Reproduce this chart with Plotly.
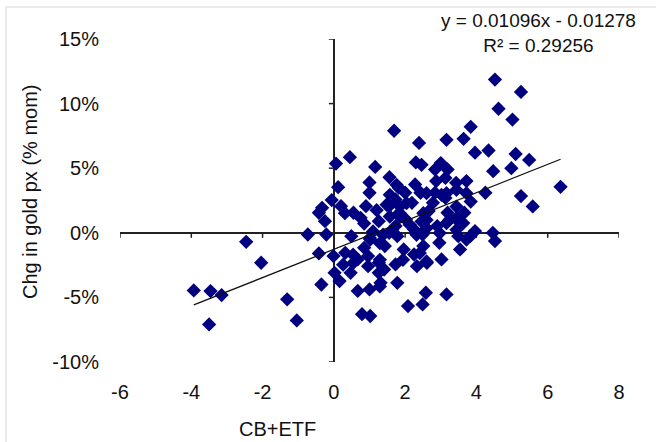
import plotly.graph_objects as go

# ---- data (CB+ETF flows vs. monthly % change in gold price) ----
cb_etf = [
    -3.93, -3.46, -3.15, -3.50, -2.46, -2.04, -1.31, -1.04, -0.73, -0.42,
    -0.33, -0.25, -0.21, -0.42, -0.35, -0.06, 0.06, 0.45, 0.12, 0.20,
    -0.01, 0.02, 0.16, 0.32, 0.49, 0.47, 0.67, 0.79, 1.02, 1.00,
    0.55, 0.75, 0.85, 0.90, 1.16, 1.00, 1.00, 1.20, 1.26, 1.02,
    0.85, 0.96, 0.67, 0.96, 1.26, 1.26, 1.31, 1.41, 1.43, 1.55,
    1.56, 1.55, 1.69, 1.73, 1.82, 1.84, 1.73, 1.78, 1.73, 1.78,
    2.00, 2.02, 1.96, 2.08, 2.19, 2.28, 2.30, 2.25, 2.25, 2.33,
    2.39, 2.43, 2.49, 2.51, 2.49, 2.58, 2.61, 2.66, 2.84, 2.87,
    2.84, 2.78, 2.90, 2.96, 3.02, 3.00, 3.13, 3.13, 3.16, 3.19,
    3.16, 3.19, 3.25, 3.43, 3.49, 3.49, 3.54, 3.64, 3.72, 3.66,
    3.72, 3.84, 3.84, 3.96, 3.96, 4.25, 4.34, 4.46, 4.52, 4.47,
    4.52, 4.62, 4.98, 5.01, 5.10, 5.25, 5.25, 5.48, 5.58, 6.36,
    1.48, 1.85, 1.57, 2.13, 2.46, 1.01, 1.38, 2.32, 1.29, 0.54,
    1.29, 1.76, 1.57, 3.16, 3.72, 2.04, 3.44, 0.31, 1.85, 2.60,
    3.16, 3.63, 1.10, 2.97, 3.44, 0.54, 1.29, 1.94, 2.41, 2.60,
    0.26, 2.46, 2.60, 3.02, 3.44, 2.51, 3.44, 2.60, 3.82,
]
gold_chg_pct = [
    -4.46, -4.51, -4.82, -7.09, -0.70, -2.32, -5.15, -6.78, -0.13, 1.55,
    1.93, 0.90, -0.13, -1.60, -4.00, 2.53, 5.36, 5.85, 3.53, 2.06,
    -1.80, -3.10, -3.74, -1.55, -0.26, -3.10, -4.50, -6.30, -6.44, -4.38,
    1.55, 1.16, 0.72, 2.06, 5.10, 3.90, 3.10, 1.75, 0.90, -0.52,
    -1.16, -1.80, -2.06, -2.58, -2.32, -3.10, -3.87, -2.84, -1.03, 0.00,
    4.30, 2.06, 7.90, 2.58, 3.48, 1.55, 0.52, -0.26, -2.45, -3.87,
    3.10, 1.03, -1.29, -5.67, 2.32, 3.74, 5.45, 0.26, -1.68, -2.58,
    6.96, 3.10, -0.13, -1.03, -5.54, -4.64, -2.32, 1.68, 4.90, 4.00,
    3.10, 2.32, 0.52, -0.77, -2.06, 5.40, 4.25, 2.70, 7.20, 4.90,
    -4.77, 1.55, 1.03, 3.87, 0.90, -0.26, -1.29, 7.27, 4.00, 1.55,
    -0.52, 8.20, 2.42, 6.20, 0.13, 3.10, 6.37, 0.00, -0.64, 4.77,
    11.86, 9.60, 5.00, 8.76, 6.10, 10.90, 2.84, 5.64, 2.04, 3.56,
    2.17, 2.04, 1.26, 0.62, 0.87, -0.41, -0.15, -0.15, -0.80, -2.34,
    -4.15, 3.71, 2.94, 3.07, 3.07, 2.30, 2.03, 1.52, 1.26, 1.00,
    0.75, 0.75, 0.10, -0.02, 0.23, -1.70, -2.09, -2.09, -1.57, -2.22,
    -2.47, 5.26, 3.07, 2.94, 3.33, 1.52, 1.14, 0.36, -0.28,
]

# trendline reported on the chart
slope = 0.01096
intercept = -0.01278
r_squared = 0.29256

x_ticks = [-6, -4, -2, 0, 2, 4, 6, 8]
x_tick_text = ["-6", "-4", "-2", "0", "2", "4", "6", "8"]
y_ticks = [-10, -5, 0, 5, 10, 15]
y_tick_text = ["-10%", "-5%", "0%", "5%", "10%", "15%"]

FONT = "Liberation Sans"
NAVY = "#000080"

x_min, x_max = min(cb_etf), max(cb_etf)
trend_x = [x_min, x_max]
trend_y = [100 * (slope * v + intercept) for v in trend_x]

fig = go.Figure()
fig.add_trace(go.Scatter(
    x=cb_etf, y=gold_chg_pct, mode="markers",
    marker=dict(symbol="diamond", size=11, color=NAVY,
                line=dict(color=NAVY, width=0)),
    showlegend=False,
))
fig.add_trace(go.Scatter(
    x=trend_x, y=trend_y, mode="lines",
    line=dict(color="#111111", width=1.3), hoverinfo="skip", showlegend=False,
))

shapes = []
# tick marks on the crossing axes
for v in y_ticks:
    shapes.append(dict(type="line", xref="x", yref="y", xsizemode="pixel",
                       xanchor=0, x0=-5, x1=0, y0=v, y1=v, layer="below",
                       line=dict(color="#222222", width=1.5)))
for v in x_ticks:
    shapes.append(dict(type="line", xref="x", yref="y", ysizemode="pixel",
                       yanchor=0, y0=-5, y1=0, x0=v, x1=v, layer="below",
                       line=dict(color="#222222", width=1.5)))
# faint outer chart border (top & left visible)
shapes.append(dict(type="rect", xref="paper", yref="paper",
                   x0=-0.2285, x1=1.3, y0=-0.4, y1=1.099,
                   line=dict(color="#e4e4e4", width=1.5), layer="below"))

fig.update_layout(
    width=656, height=442,
    margin=dict(l=120, r=37, t=39, b=80),
    paper_bgcolor="white", plot_bgcolor="white",
    font=dict(family=FONT, size=20, color="#111111"),
    shapes=shapes,
    xaxis=dict(range=[-6, 8], tickvals=x_ticks, ticktext=x_tick_text,
               showgrid=False, showline=False, ticks="", zeroline=True,
               zerolinecolor="#222222", zerolinewidth=1.5,
               ticklabelstandoff=16, fixedrange=True),
    yaxis=dict(range=[-10, 15], tickvals=y_ticks, ticktext=y_tick_text,
               showgrid=False, showline=False, ticks="", zeroline=True,
               zerolinecolor="#222222", zerolinewidth=1.5,
               ticklabelstandoff=20, fixedrange=True),
    annotations=[
        dict(text="CB+ETF", xref="paper", yref="paper",
             x=(277 - 120) / 499, y=(362 - 429) / 323,
             xanchor="center", yanchor="middle", showarrow=False,
             font=dict(family=FONT, size=20)),
        dict(text="Chg in gold px (% mom)", xref="paper", yref="paper",
             x=(30 - 120) / 499, y=(362 - 192) / 323, textangle=-90,
             xanchor="center", yanchor="middle", showarrow=False,
             font=dict(family=FONT, size=20)),
        dict(text=f"y = {slope:.5f}x - {abs(intercept):.5f}<br>R² = {r_squared:.5f}",
             xref="paper", yref="paper",
             x=(538 - 120) / 499, y=(362 - 33) / 323,
             xanchor="center", yanchor="middle", align="center",
             showarrow=False, font=dict(family=FONT, size=19)),
    ],
)

fig.write_html("out.html")
